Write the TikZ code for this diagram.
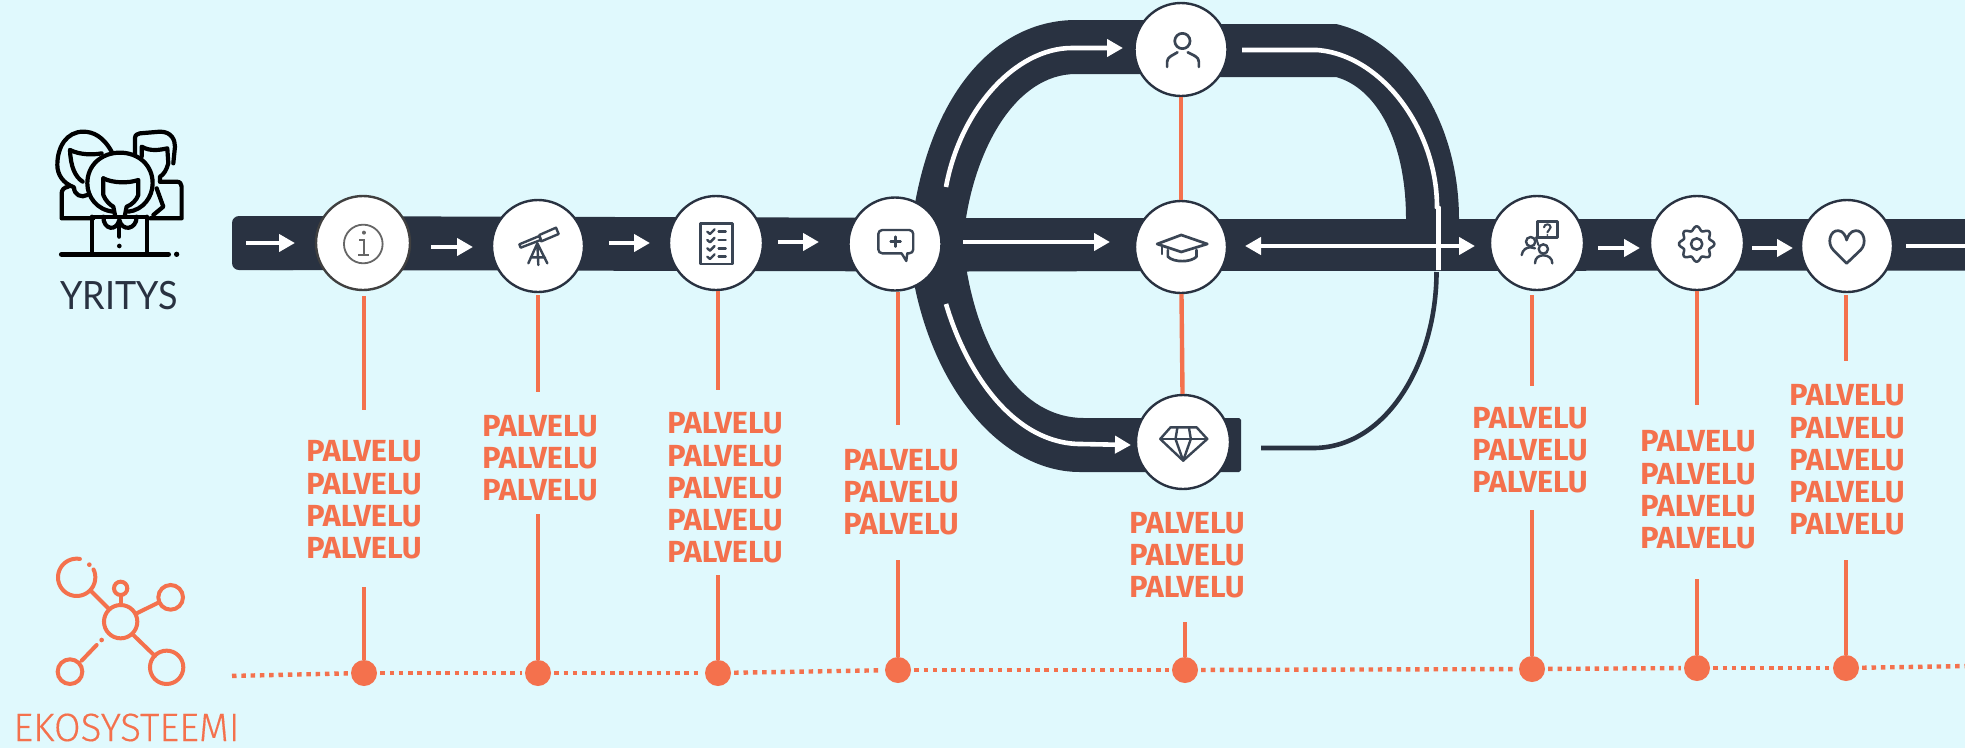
\documentclass[tikz,border=0pt]{standalone}
\usepackage{fontspec}
\setmainfont{Fira Sans}
\newfontfamily\lightf[UprightFont=* Light,FakeBold=0.3]{Fira Sans}
\newfontfamily\yfont{Lato}
\usetikzlibrary{shapes.geometric,arrows.meta}
\definecolor{bgc}{HTML}{E0F9FD}
\definecolor{dark}{HTML}{293241}
\definecolor{org}{HTML}{F4714D}
\definecolor{ico}{HTML}{3A4554}
\tikzset{
 stopc/.style={circle,draw=dark,line width=2.4pt,fill=white,inner sep=0pt,minimum size=#1},
 ol/.style={org,line width=4.4pt},
 arr/.style={white,line width=4.6pt,-{Triangle[width=17pt,length=16pt]}},
 arrb/.style={white,line width=4.6pt,{Triangle[width=17pt,length=16pt]}-{Triangle[width=17pt,length=16pt]}},
 whl/.style={white,line width=4.6pt},
 dotnode/.style={circle,fill=org,inner sep=0pt,minimum size=26pt},
 pal/.style={org,font=\fontsize{30.5}{32.3}\selectfont\bfseries,align=center,inner sep=0pt},
 icl/.style={ico,line width=2.4pt,line cap=round,line join=round},
 pp/.style={black,line width=4.2pt,line cap=round,line join=round},
 net/.style={org,line width=4pt,line cap=round}
}
\begin{document}
\begin{tikzpicture}[x=1pt,y=-1pt]
\useasboundingbox (0,0) rectangle (1965,748);
\fill[bgc] (0,0) rectangle (1965,748);
% main bar
\fill[dark,rounded corners=7pt] (232,216) rectangle (300,270);
\fill[dark] (270,216) -- (965,218) -- (1181,218) -- (1181,219) -- (1965,219) -- (1965,270.5) -- (1181,271) -- (965,271.5) -- (270,270) -- cycle;
% upper arch
\fill[dark] (909,250) .. controls (921,100) and (992,20) .. (1076,20) -- (1181,20) -- (1181,24) -- (1336,24)
 .. controls (1405,40) and (1459,120) .. (1459,219) -- (1459,250) -- (1406,250) -- (1406,219)
 .. controls (1406,140) and (1376,88) .. (1336,77) -- (1181,77) -- (1181,74) -- (1076,74)
 .. controls (1015,74) and (975,150) .. (965,225) -- (965,250) -- cycle;
% lower arch
\fill[dark] (909,250) .. controls (923,380) and (998,472) .. (1080,472) -- (1239,472) -- (1241,470) -- (1241,420) -- (1239,418) -- (1084,418)
 .. controls (1020,418) and (978,350) .. (965,260) -- (965,250) -- cycle;
% thin dark return
\coordinate (ta) at (1261,448); \coordinate (tb) at (1436.5,272);
\draw[dark,line width=4.6pt] (ta) -- (1313,448) .. controls (1388,448) and (1436.5,360) .. (tb);
% white paths
\coordinate (ua) at (946,187); \coordinate (ub) at (1123,48);
\coordinate (la) at (946,304); \coordinate (lb) at (1131,445);
\draw[arr] (ua) .. controls (960,110) and (1015,48) .. (1072,48) -- (ub);
\draw[arr] (la) .. controls (967,375) and (1015,444) .. (1081,444) -- (lb);
\coordinate (ra) at (1242,50); \coordinate (rb) at (1438.5,270);
\draw[whl] (ra) -- (1317,50) .. controls (1382,55) and (1437,130) .. (1437,207) -- (1438.5,208) -- (rb);
% bar arrows
\foreach \n/\p/\q/\yy in {0/246/295/243,1/431/473/247,2/609/650/243,3/778/819/242,4/963/1110/242,8/1598/1640/248,9/1752/1793/248}{
 \coordinate (as\n) at (\p,\yy); \coordinate (ae\n) at (\q,\yy);
 \draw[arr] (as\n) -- (ae\n);
}
\coordinate (das) at (1245,246); \coordinate (dae) at (1475,246);
\draw[arrb] (das) -- (dae);
\coordinate (las) at (1906,246); \coordinate (lae) at (1965,246);
\draw[white,line width=4.6pt] (las) -- (lae);
% stops
\node[stopc=94pt,draw=black!75] (n1) at (363,243) {};
\node[stopc=92pt] (n2) at (538,246) {};
\node[stopc=94pt] (n3) at (716,243) {};
\node[stopc=93pt] (n4) at (895,244) {};
\node[stopc=93pt] (n5) at (1181,49.5) {};
\node[stopc=92pt] (n6) at (1181,247) {};
\node[stopc=94pt] (n7) at (1183,442) {};
\node[stopc=94pt] (n8) at (1537,243) {};
\node[stopc=94pt] (n9) at (1697,243) {};
\node[stopc=92pt] (n10) at (1847,246) {};
% labels
\node[pal] (l1) at (364,500) {PALVELU\\PALVELU\\PALVELU\\PALVELU};
\node[pal] (l2) at (540,458) {PALVELU\\PALVELU\\PALVELU};
\node[pal] (l3) at (725,488) {PALVELU\\PALVELU\\PALVELU\\PALVELU\\PALVELU};
\node[pal] (l4) at (901,492) {PALVELU\\PALVELU\\PALVELU};
\node[pal] (l5) at (1187,555) {PALVELU\\PALVELU\\PALVELU};
\node[pal] (l8) at (1530,450) {PALVELU\\PALVELU\\PALVELU};
\node[pal] (l9) at (1698,490) {PALVELU\\PALVELU\\PALVELU\\PALVELU};
\node[pal] (l10) at (1847,460) {PALVELU\\PALVELU\\PALVELU\\PALVELU\\PALVELU};
% dots and dotted line
\node[dotnode] (d1) at (364,673) {};
\node[dotnode] (d2) at (538,673) {};
\node[dotnode] (d3) at (718,673) {};
\node[dotnode] (d4) at (898,670) {};
\node[dotnode] (d5) at (1185,670) {};
\node[dotnode] (d8) at (1532,669) {};
\node[dotnode] (d9) at (1697,668) {};
\node[dotnode] (d10) at (1846,668) {};
\coordinate (ds) at (229,676); \coordinate (de) at (1968,666);
\foreach \a/\b in {ds/d1,d1/d2,d2/d3,d3/d4,d4/d5,d5/d8,d8/d9,d9/d10,d10/de}{
 \draw[org,line width=4.4pt,dash pattern=on 4.5pt off 4.8pt,shorten <=3pt,shorten >=3pt] (\a) -- (\b);
}
% orange stems
\foreach \i/\tt/\bb/\ss in {1/410/587/5pt,2/392/514/2pt,3/390/575/0pt,4/425/560/0pt,8/386/510/4pt,9/405/579/0pt,10/361/560/2pt}{
 \coordinate (t\i) at (0,\tt); \coordinate (b\i) at (0,\bb);
 \draw[ol,shorten <=\ss] (d\i |- n\i.south) -- (d\i |- t\i);
 \draw[ol] (d\i |- b\i) -- (d\i);
}
\coordinate (b5) at (0,622);
\draw[ol] (d5 |- b5) -- (d5);
\draw[ol] (n5) -- (n6);
\draw[ol] (n6) -- (n7);
% side titles
\node[dark,font=\yfont\fontsize{39}{39}\selectfont,inner sep=0pt,anchor=base] (yr) at (119,309) {\scalebox{0.92}[1]{YRITYS}};
\node[org,font=\lightf\fontsize{39.5}{40}\selectfont,inner sep=0pt,anchor=base] (ek) at (126.5,741) {\scalebox{0.98}[1]{EKOSYSTEEMI}};
% people icon
\begin{scope}[shift={(0,100)},x=0.3333pt,y=-0.3333pt]
 \draw[pp] (335,155) .. controls (310,110) and (280,95) .. (250,95) .. controls (200,95) and (172,140) .. (172,195) .. controls (172,225) and (190,250) .. (222,262) .. controls (222,285) and (245,295) .. (262,285);
 \draw[pp] (210,150) .. controls (240,165) and (280,165) .. (305,160);
 \draw[pp] (210,150) .. controls (212,200) and (225,230) .. (248,245);
 \draw[pp] (405,170) -- (405,125) .. controls (405,105) .. (420,100) -- (480,95) .. controls (515,95) and (525,120) .. (525,140) -- (520,190);
 \draw[pp] (425,170) -- (425,140) .. controls (450,155) and (480,150) .. (502,145) -- (505,190) .. controls (500,210) and (490,225) .. (480,230) -- (480,245);
 \draw[pp] (480,245) -- (530,245) .. controls (540,245) and (545,252) .. (545,260) -- (545,355) -- (450,355);
 \draw[pp] (470,265) -- (490,320) -- (460,345);
 \draw[pp] (205,260) .. controls (192,262) and (185,270) .. (185,280) -- (185,355) -- (280,355);
 \draw[pp,fill=bgc] (340,335) .. controls (290,330) and (262,290) .. (262,250) .. controls (262,195) and (305,158) .. (360,158) .. controls (415,158) and (458,195) .. (458,250) .. controls (458,290) and (430,330) .. (385,335);
 \draw[pp] (310,235) .. controls (340,250) and (385,250) .. (415,240) -- (415,285) .. controls (410,300) and (395,315) .. (380,320) -- (375,345);
 \draw[pp] (310,235) -- (310,285) .. controls (315,300) and (330,315) .. (340,320) -- (345,345);
 \draw[pp] (280,350) -- (440,350);
 \draw[pp] (275,350) -- (275,460);
 \draw[pp] (440,350) -- (440,460);
 \draw[pp] (310,350) .. controls (310,390) and (350,395) .. (358,360) .. controls (365,395) and (410,390) .. (410,350);
 \draw[pp] (358,370) -- (358,410);
 \fill (358,438) circle[radius=7];
 \draw[pp,line width=5.5pt] (185,463) -- (505,463);
 \fill (530,463) circle[radius=8];
\end{scope}
% network icon
\begin{scope}[shift={(0,530)},x=0.3333pt,y=-0.3333pt]
 \draw[net] plot[domain=80:385,samples=40] ({230+56*cos(\x)},{142-56*sin(\x)});
 \fill[org] (268,104) circle[radius=7];
 \draw[net] (275,185) -- (325,235);
 \draw[net] (362,275) circle[radius=50];
 \draw[net] (362,175) circle[radius=20];
 \draw[net] (362,195) -- (362,225);
 \draw[net] (512,202) circle[radius=37];
 \draw[net] (410,250) -- (475,218);
 \draw[net] (500,412) circle[radius=50];
 \draw[net] (400,315) -- (465,378);
 \draw[net] (210,425) circle[radius=37];
 \draw[net] (245,392) -- (290,345);
 \fill[org] (305,330) circle[radius=7];
\end{scope}
% info
\begin{scope}[shift={(0,100)},x=0.3333pt,y=-0.3333pt]
 \draw[black!60,line width=1.8pt] (1090,432) circle[radius=58];
 \draw[black!60,line width=2pt] (1078,420) -- (1092,420) -- (1092,465) (1075,465) -- (1108,465);
 \fill[black!60] (1092,398) circle[radius=6];
\end{scope}
% telescope, checklist, chat
\begin{scope}[shift={(480,180)},x=0.3333pt,y=-0.3333pt]
 \draw[icl] (118,193) -- (178,168) -- (182,180) -- (122,203) -- cycle;
 \draw[icl] (178,165) -- (228,143) -- (236,162) -- (184,184) -- cycle;
 \draw[icl] (172,190) -- (145,250) (172,190) -- (175,255) (172,190) -- (202,250) (152,232) -- (195,232);
 \draw[icl,line width=2.8pt] (662,130) rectangle (757,252);
 \foreach \yy in {155,180,205,230}{
  \draw[icl] (682,\yy) -- (690,\yy+7) -- (704,\yy-7);
  \draw[icl,line width=2.6pt] (716,\yy) -- (737,\yy);
 }
 \draw[icl,rounded corners=4pt] (1265,220) -- (1195,220) -- (1195,150) -- (1300,150) -- (1300,220) -- (1282,220);
 \draw[icl] (1265,220) -- (1279,243) -- (1282,220);
 \draw[icl] (1232,185) -- (1262,185) (1247,170) -- (1247,200);
\end{scope}
% person, cap (this crop was 2.6133x wide)
\begin{scope}[shift={(900,0)},x=0.38266pt,y=-0.3333pt]
 \draw[icl,line width=2.7pt] (738,123) circle[x radius=20,y radius=23];
 \draw[icl,line width=2.7pt] (698,201) -- (698,185) .. controls (698,170) and (715,165) .. (725,157);
 \draw[icl,line width=2.7pt] (781,201) -- (781,185) .. controls (781,170) and (765,165) .. (752,157);
 \draw[icl,line width=2.7pt] (672,732) -- (735,705) -- (803,732) -- (735,756) -- cycle;
 \draw[icl,line width=2.7pt] (700,750) -- (700,770) .. controls (715,788) and (760,788) .. (775,770) -- (775,750);
 \draw[icl] (685,738) -- (685,762);
\end{scope}
% diamond
\begin{scope}[shift={(900,270)},x=0.38266pt,y=-0.3333pt]
 \draw[icl] (680,507) -- (707,472) -- (775,472) -- (803,507) -- (740,572) -- cycle;
 \draw[icl] (680,507) -- (803,507);
 \draw[icl] (725,472) -- (720,507) -- (740,572) -- (760,507) -- (755,472);
\end{scope}
% people with question, gear, heart
\begin{scope}[shift={(1480,180)},x=0.3333pt,y=-0.3333pt]
 \draw[icl] (172,125) rectangle (233,172);
 \draw[icl,line width=2pt] (192,142) .. controls (193,130) and (212,130) .. (212,142) .. controls (212,150) and (202,150) .. (202,157);
 \fill[ico] (202,165) circle[radius=3];
 \draw[icl,line width=2pt] (168,172) -- (175,195);
 \draw[icl] (152,185) circle[radius=14];
 \draw[icl] (125,225) .. controls (128,208) and (140,202) .. (152,202) -- (165,205);
 \draw[icl] (190,207) circle[radius=14];
 \draw[icl] (165,250) .. controls (165,232) and (178,226) .. (190,226) .. controls (205,226) and (217,235) .. (217,250);
 \draw[icl,line width=2.5pt] plot[domain=0:360,samples=145,smooth] ({650+(47+6*cos(8*\x))*cos(\x)},{192-(47+6*cos(8*\x))*sin(\x)}) -- cycle;
 \draw[icl,line width=2.5pt] (650,192) circle[radius=17];
 \draw[icl,line width=2.7pt] (1100,250) -- (1060,210) .. controls (1040,190) and (1050,150) .. (1075,152) .. controls (1090,152) and (1098,170) .. (1100,180) .. controls (1102,170) and (1112,152) .. (1127,152) .. controls (1152,150) and (1162,190) .. (1142,210) -- cycle;
\end{scope}
\end{tikzpicture}
\end{document}
